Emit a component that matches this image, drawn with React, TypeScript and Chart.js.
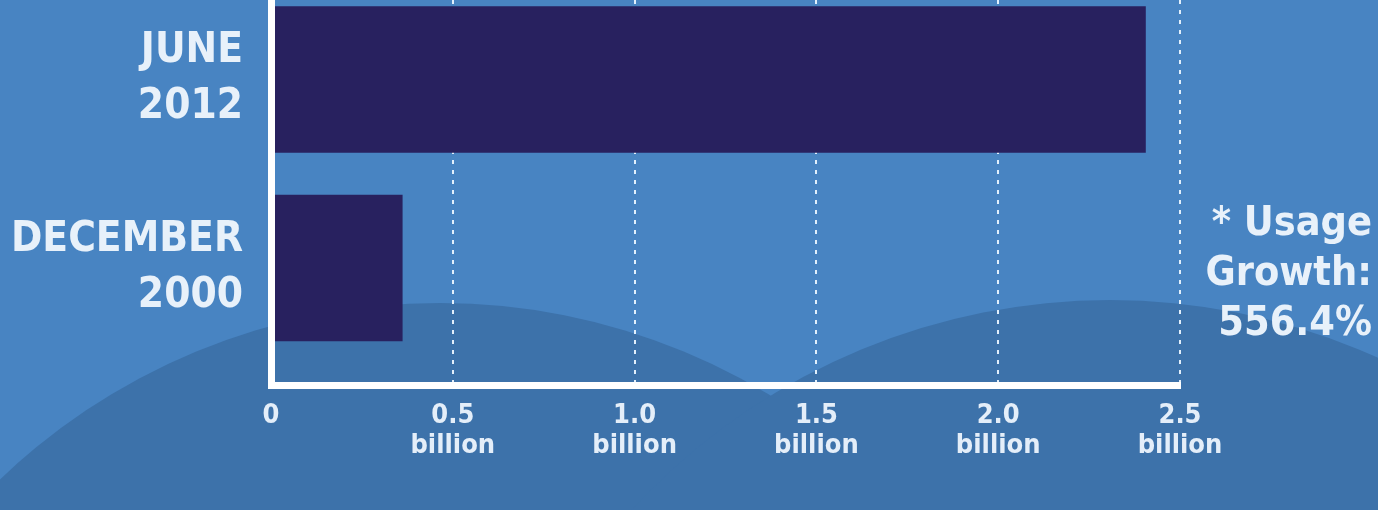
import React, { useEffect, useRef } from "react";
import { Chart, registerables } from "chart.js";

Chart.register(...registerables);

// ---- data ----
const periodMonths = ["JUNE", "DECEMBER"];
const periodYears = ["2012", "2000"];
const usersBillions = [2.405, 0.361];
const xTickValues = [0, 0.5, 1.0, 1.5, 2.0, 2.5];
const xTickUnit = "billion";
const noteLines = ["* Usage", "Growth:", "556.4%"];

const FONT = '"DejaVu Sans Condensed", "Liberation Sans Narrow", "DejaVu Sans", sans-serif';
const W = 1378;
const H = 510;

const backgroundPlugin = {
  id: "bgArcs",
  beforeDraw(chart: any) {
    const { ctx, width, height } = chart;
    ctx.save();
    ctx.fillStyle = "#4884c2";
    ctx.fillRect(0, 0, width, height);
    ctx.fillStyle = "#3d72aa";
    ctx.beginPath();
    ctx.arc(440, 940, 637, 0, Math.PI * 2);
    ctx.fill();
    ctx.beginPath();
    ctx.arc(1110, 950, 650, 0, Math.PI * 2);
    ctx.fill();
    ctx.restore();
  },
};

export default function App() {
  const ref = useRef<HTMLCanvasElement | null>(null);

  useEffect(() => {
    if (!ref.current) return;
    const chart = new Chart(ref.current, {
      type: "bar",
      data: {
        datasets: [
          {
            data: usersBillions.map((v, i) => ({ x: v, y: i })),
            backgroundColor: "#28215f",
            borderWidth: 0,
            barThickness: 146,
          } as any,
        ],
      },
      options: {
        indexAxis: "y",
        animation: false,
        responsive: false,
        devicePixelRatio: 1,
        layout: { padding: { left: 0, right: 198, top: 0, bottom: 0 } },
        plugins: { legend: { display: false }, tooltip: { enabled: false } },
        scales: {
          x: {
            type: "linear",
            position: "bottom",
            min: 0,
            max: 2.5,
            afterBuildTicks: (s: any) => {
              s.ticks = xTickValues.map((v) => ({ value: v }));
            },
            afterFit: (s: any) => {
              s.height = 125;
              s.paddingLeft = 0;
              s.paddingRight = 0;
            },
            grid: {
              drawTicks: false,
              lineWidth: 2,
              color: (c: any) => (c.index === 0 ? "rgba(0,0,0,0)" : "rgba(235,245,255,0.95)"),
            },
            border: { display: true, color: "#ffffff", width: 7, dash: [4, 6] },
            ticks: {
              padding: 16,
              color: "#e4eef9",
              maxRotation: 0,
              autoSkip: false,
              font: { family: FONT, size: 27, weight: "bold", lineHeight: 1.11 },
              callback: (v: any) => (Number(v) === 0 ? "0" : [Number(v).toFixed(1), xTickUnit]),
            },
          },
          y: {
            type: "linear",
            position: "left",
            reverse: true,
            offset: false,
            min: -0.4218,
            max: 1.6207,
            afterBuildTicks: (s: any) => {
              s.ticks = periodMonths.map((_, i) => ({ value: i }));
            },
            afterFit: (s: any) => {
              s.width = 271;
              s.paddingTop = 0;
              s.paddingBottom = 0;
            },
            grid: { display: false, drawTicks: false, offset: false },
            border: { display: true, color: "#ffffff", width: 7, z: 1 },
            ticks: {
              padding: 28,
              color: "#e8f1fa",
              font: { family: FONT, size: 42, weight: "bold", lineHeight: 1.33 },
              callback: (v: any) => [periodMonths[Number(v)], periodYears[Number(v)]],
            },
          },
        },
      } as any,
      plugins: [backgroundPlugin],
    });
    return () => chart.destroy();
  }, []);

  return (
    <div style={{ position: "fixed", left: 0, top: 0, width: W, height: H, overflow: "hidden" }}>
      <canvas ref={ref} width={W} height={H} style={{ display: "block", width: W, height: H }} />
      <div
        style={{
          position: "absolute",
          right: 6,
          top: 196,
          textAlign: "right",
          color: "#e8f1fa",
          fontFamily: FONT,
          fontWeight: "bold",
          fontSize: 41,
          lineHeight: "50px",
          whiteSpace: "pre",
        }}
      >
        {noteLines.map((l, i) => (
          <div key={i}>{l}</div>
        ))}
      </div>
    </div>
  );
}
